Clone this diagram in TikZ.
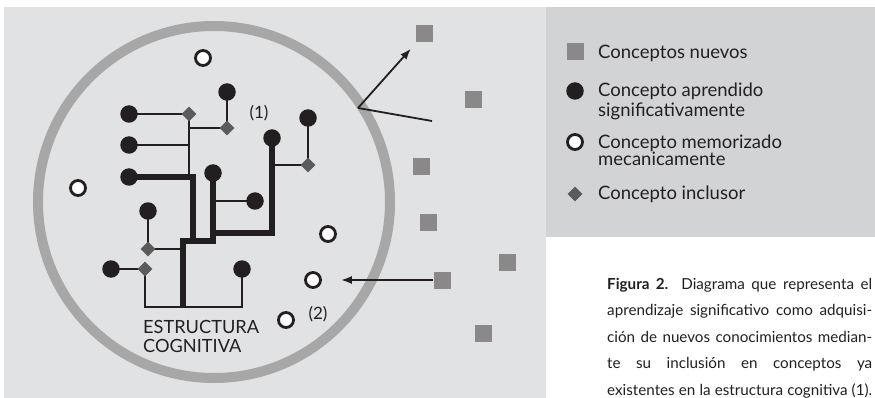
\documentclass[tikz,border=0pt]{standalone}
\usepackage{fontspec}
\setmainfont{Lato}
\usetikzlibrary{shapes.geometric,arrows.meta}
\pgfdeclarelayer{back}
\pgfdeclarelayer{wires}
\pgfsetlayers{back,wires,main}
\definecolor{ink}{HTML}{231F20}
\definecolor{panelA}{HTML}{E1E2E4}
\definecolor{panelB}{HTML}{D2D3D5}
\definecolor{ringc}{HTML}{A7A7A7}
\definecolor{sqc}{HTML}{8A8889}
\definecolor{diac}{HTML}{5B5B5B}
\tikzset{
  dotb/.style={circle,fill=ink,minimum size=17.5pt,inner sep=0pt},
  dotw/.style={circle,draw=ink,line width=2.8pt,fill=white,minimum size=15pt,inner sep=0pt},
  incl/.style={diamond,fill=diac,minimum width=15pt,minimum height=15pt,inner sep=0pt},
  newc/.style={rectangle,fill=sqc,minimum size=17pt,inner sep=0pt},
  wthin/.style={draw=ink,line width=2pt},
  wthick/.style={draw=ink,line width=5.5pt,line join=miter},
  arr/.style={draw=ink,line width=1.8pt,-{Latex[length=11pt,width=8pt]}},
  legtxt/.style={font=\fontsize{18.5}{21}\selectfont,text=ink,inner sep=0pt,anchor=base west},
  captxt/.style={font=\fontsize{15.2}{17}\selectfont,text=ink,inner sep=0pt,anchor=base west},
  numtxt/.style={font=\fontsize{17}{19}\selectfont,text=ink,inner sep=0pt},
  esttxt/.style={font=\fontsize{18.2}{21}\selectfont,text=ink,inner sep=0pt,anchor=base west},
}
\begin{document}
\begin{tikzpicture}[x=1pt,y=-1pt]
\useasboundingbox (0,0) rectangle (875,398);
\begin{pgfonlayer}{back}
  \fill[white] (0,0) rectangle (875,398);
  \fill[panelA] (4,7) rectangle (546,398);
  \fill[panelB] (546,7) rectangle (875,237);
  \draw[ringc,line width=10pt] (214,202) circle[radius=176pt];
\end{pgfonlayer}

% open circles (memorized)
\node[dotw] (o1) at (203,58) {};
\node[dotw] (o2) at (78,188) {};
\node[dotw] (o3) at (328,234) {};
\node[dotw] (o4) at (313,280) {};
\node[dotw] (o5) at (286,320) {};
% new concepts
\node[newc] (s1) at (424,34) {};
\node[newc] (s2) at (473,100) {};
\node[newc] (s3) at (421,167) {};
\node[newc] (s4) at (428,222) {};
\node[newc] (s5) at (442,280) {};
\node[newc] (s6) at (507,262) {};
\node[newc] (s7) at (483,333) {};
% learned concepts
\node[dotb] (A) at (129,114) {};
\node[dotb] (B) at (129,145) {};
\node[dotb] (C) at (129,177) {};
\node[dotb] (D) at (227,92) {};
\node[dotb] (E) at (272,138) {};
\node[dotb] (F) at (213,173) {};
\node[dotb] (G) at (255,201) {};
\node[dotb] (H) at (148,211) {};
\node[dotb] (I) at (111,269) {};
\node[dotb] (J) at (242,269) {};
\node[dotb] (K) at (308,118) {};
% inclusive concepts
\node[incl] (d1) at (189,114) {};
\node[incl] (d2) at (227,128) {};
\node[incl] (d3) at (148,249) {};
\node[incl] (d4) at (145,269) {};
\node[incl] (d5) at (308,165) {};

% junction coordinates
\coordinate (jB) at (189,145);
\coordinate (jC) at (189,177);
\coordinate (jD) at (189,128);
\coordinate (cC1) at (193,177);
\coordinate (cC2) at (193,241);
\coordinate (t0) at (183,307);
\coordinate (t1) at (183,241);
\coordinate (t2) at (213,241);
\coordinate (e1) at (272,233);
\coordinate (e2) at (213,233);
\coordinate (g1) at (213,201);
\coordinate (h1) at (183,249);
\coordinate (b1) at (145,307);
\coordinate (b2) at (242,307);
\coordinate (k1) at (272,165);
\coordinate (jn) at (358,108);
\coordinate (lend) at (432,121);

\begin{pgfonlayer}{wires}
  \path[wthin] (A.center) -- (d1.center) -- (jC);
  \path[wthin] (B.center) -- (jB);
  \path[wthin] (jD) -- (d2.center) -- (D.center);
  \path[wthin] (H.center) -- (d3.center) -- (h1);
  \path[wthin] (I.center) -- (d4.center) -- (b1) -- (b2) -- (J.center);
  \path[wthin] (g1) -- (G.center);
  \path[wthin] (k1) -- (d5.center) -- (K.center);
  \path[wthick] (C.center) -- (cC1) -- (cC2);
  \path[wthick] (t0) -- (t1) -- (t2) -- (F.center);
  \path[wthick] (E.center) -- (e1) -- (e2);
  \path[arr,shorten >=8pt] (jn) -- (s1);
  \path[draw=ink,line width=1.8pt] (jn) -- (lend);
  \path[arr,shorten >=19pt] (s5) -- (o4);
\end{pgfonlayer}

\node[numtxt] (n1) at (259,113) {(1)};
\node[numtxt] (n2) at (318,314) {(2)};
\node[esttxt] (est1) at (143,333) {ESTRUCTURA};
\node[esttxt] (est2) at (143,352) {COGNITIVA};

% legend
\node[newc] (lsq) at (575,52) {};
\node[dotb] (ldot) at (575,91) {};
\node[dotw] (lcirc) at (575,142) {};
\node[incl] (ldia) at (575,194) {};
\node[legtxt] (l1) at (598,59) {Conceptos nuevos};
\node[legtxt] (l2a) at (598,96.5) {Concepto aprendido};
\node[legtxt] (l2b) at (598,117) {significativamente};
\node[legtxt] (l3a) at (598,148.5) {Concepto memorizado};
\node[legtxt] (l3b) at (598,166) {mecanicamente};
\node[legtxt] (l4) at (598,199.5) {Concepto inclusor};

% caption
\node[captxt] (c1) at (607,289) {\makebox[265pt][s]{\textbf{Figura 2.} Diagrama que representa el}};
\node[captxt] (c2) at (607,315.5) {\makebox[265pt][s]{aprendizaje significativo como adquisi-}};
\node[captxt] (c3) at (607,342) {\makebox[265pt][s]{ción de nuevos conocimientos median-}};
\node[captxt] (c4) at (607,368.5) {\makebox[265pt][s]{te su inclusión en conceptos ya}};
\node[captxt] (c5) at (607,395) {\makebox[265pt][s]{existentes en la estructura cognitiva (1).}};
\end{tikzpicture}
\end{document}
